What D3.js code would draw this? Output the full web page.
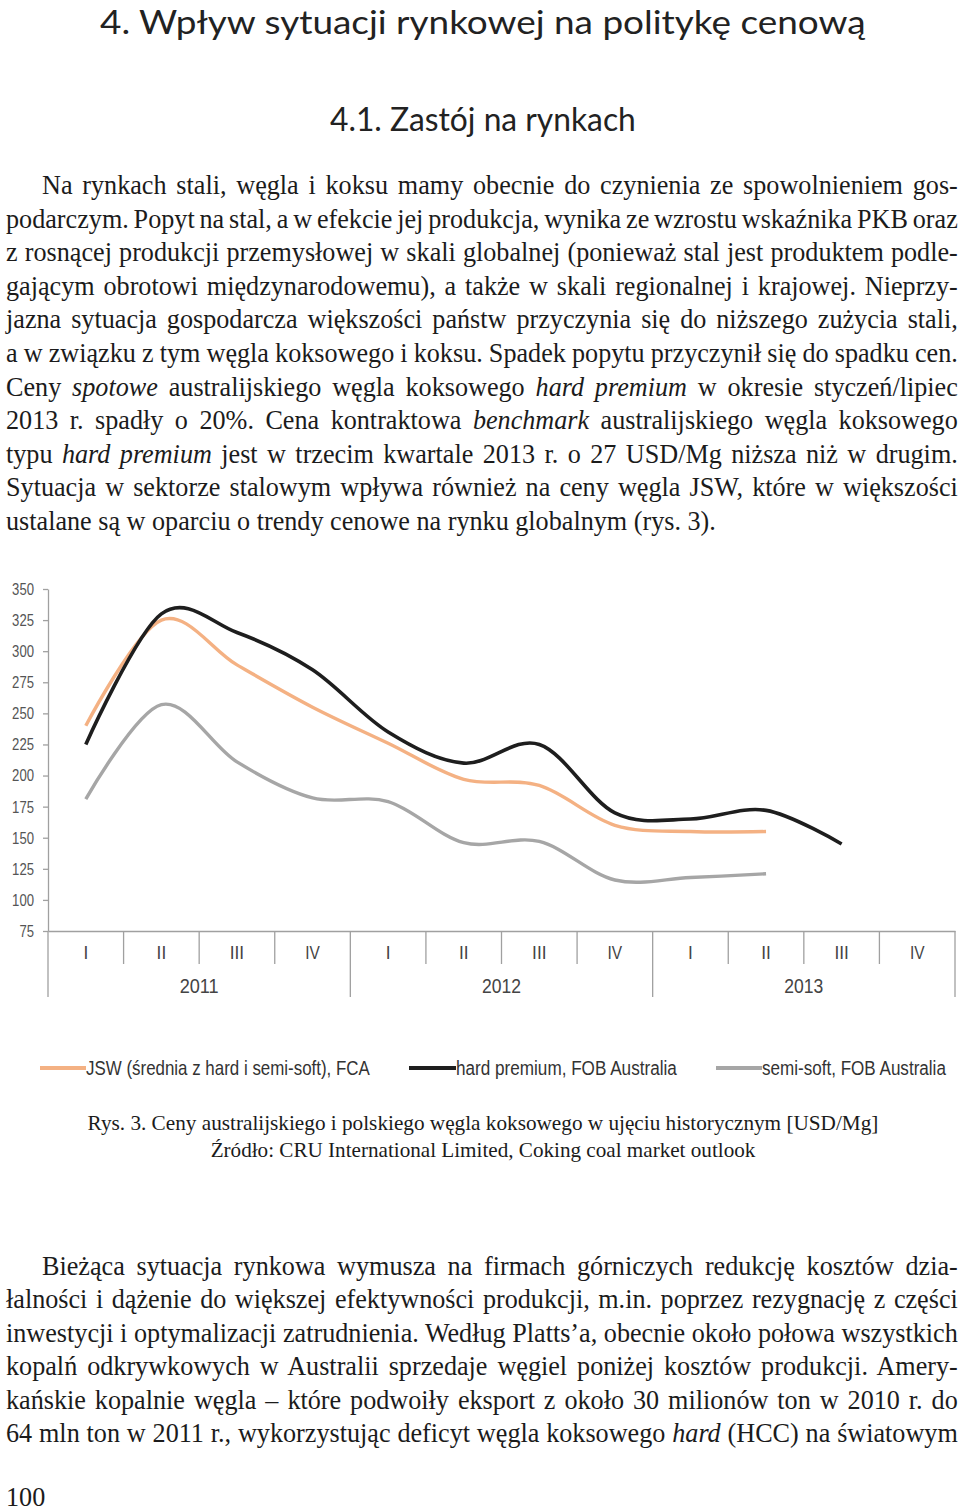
<!DOCTYPE html>
<html><head><meta charset="utf-8">
<script src="https://cdn.jsdelivr.net/npm/d3@7"></script>
<style>body{margin:0;background:#fff}svg{display:block}</style>
</head><body><svg id="c" width="960" height="1511"></svg>
<script>
// ---------- DATA ----------
const quarters = ["I","II","III","IV","I","II","III","IV","I","II","III","IV"];
const years = ["2011","2012","2013"];
const yTicks = [75,100,125,150,175,200,225,250,275,300,325,350];
const jswValues  = [240,325,289,255,226,197,192,160,155,155];
const hardValues = [225,330,315,285,235,210,225,170,165,172,145];
const semiValues = [181,257,211,182,179,146,147,116,118,121];
const seriesNames = ["JSW (średnia z hard i semi-soft), FCA","hard premium, FOB Australia","semi-soft, FOB Australia"];
const seriesColors = ["#f4b183","#1e1e1e","#a6a6a6"];

const headingText = "4. Wpływ sytuacji rynkowej na politykę cenową";
const subheadingText = "4.1. Zastój na rynkach";
const para1 = [
 "Na rynkach stali, węgla i koksu mamy obecnie do czynienia ze spowolnieniem gos-",
 "podarczym. Popyt na stal, a w efekcie jej produkcja, wynika ze wzrostu wskaźnika PKB oraz",
 "z rosnącej produkcji przemysłowej w skali globalnej (ponieważ stal jest produktem podle-",
 "gającym obrotowi międzynarodowemu), a także w skali regionalnej i krajowej. Nieprzy-",
 "jazna sytuacja gospodarcza większości państw przyczynia się do niższego zużycia stali,",
 "a w związku z tym węgla koksowego i koksu. Spadek popytu przyczynił się do spadku cen.",
 "Ceny *spotowe* australijskiego węgla koksowego *hard premium* w okresie styczeń/lipiec",
 "2013 r. spadły o 20%. Cena kontraktowa *benchmark* australijskiego węgla koksowego",
 "typu *hard premium* jest w trzecim kwartale 2013 r. o 27 USD/Mg niższa niż w drugim.",
 "Sytuacja w sektorze stalowym wpływa również na ceny węgla JSW, które w większości",
 "ustalane są w oparciu o trendy cenowe na rynku globalnym (rys. 3)."
];
const para2 = [
 "Bieżąca sytuacja rynkowa wymusza na firmach górniczych redukcję kosztów dzia-",
 "łalności i dążenie do większej efektywności produkcji, m.in. poprzez rezygnację z części",
 "inwestycji i optymalizacji zatrudnienia. Według Platts’a, obecnie około połowa wszystkich",
 "kopalń odkrywkowych w Australii sprzedaje węgiel poniżej kosztów produkcji. Amery-",
 "kańskie kopalnie węgla – które podwoiły eksport z około 30 milionów ton w 2010 r. do",
 "64 mln ton w 2011 r., wykorzystując deficyt węgla koksowego *hard* (HCC) na światowym"
];
const captionLines = [
 "Rys. 3. Ceny australijskiego i polskiego węgla koksowego w ujęciu historycznym [USD/Mg]",
 "Źródło: CRU International Limited, Coking coal market outlook"
];
const pageNumber = "100";

// ---------- SETUP ----------
const svg = d3.select("#c");
const SERIF = "'Liberation Serif','Times New Roman',serif";
const SANS = "'Liberation Sans',Arial,sans-serif";
const HEAD = "Lato,'Open Sans',sans-serif";
const INK = "#1b1b1b";

function fitText(str, x, y, size, family, width, anchor, fill) {
  const t = svg.append("text").attr("font-family", family).attr("font-size", size)
    .attr("fill", fill || INK).attr("text-anchor", anchor || "start").text(str);
  const w = t.node().getComputedTextLength();
  const k = width / w;
  t.attr("transform", `translate(${x},${y}) scale(${k},1)`);
  return t;
}

fitText(headingText, 100, 34, 33, HEAD, 766, "start", "#222");
fitText(subheadingText, 330, 131, 32, HEAD, 306, "start", "#222");

const BF = 28;
function buildLine(str) {
  const t = svg.append("text").attr("font-family", SERIF).attr("font-size", BF).attr("fill", INK);
  str.split("*").forEach((seg, i) => {
    if (seg.length) t.append("tspan").attr("font-style", i % 2 ? "italic" : "normal").text(seg);
  });
  return t;
}
const probe = buildLine(para1[para1.length - 1]);
const kx = 710 / probe.node().getComputedTextLength();
probe.remove();

function paragraph(lines, y0, lh, lastJustified) {
  lines.forEach((str, i) => {
    const t = buildLine(str);
    const x0 = i === 0 ? 42 : 6;
    const w = t.node().getComputedTextLength();
    const spaces = (str.match(/ /g) || []).length;
    const justify = i < lines.length - 1 || lastJustified;
    const target = 958 - x0;
    const ws = justify && spaces ? (target / kx - w) / spaces : 0;
    t.attr("transform", `translate(${x0},${y0 + i * lh}) scale(${kx},1)`)
     .style("word-spacing", ws + "px");
  });
}
paragraph(para1, 194, 33.6, false);
paragraph(para2, 1275, 33.4, true);

svg.append("text").attr("transform", `translate(6,1506) scale(${kx},1)`)
  .attr("font-family", SERIF).attr("font-size", BF).attr("fill", INK).text(pageNumber);

fitText(captionLines[0], 483, 1130, 21, SERIF, 791, "middle");
fitText(captionLines[1], 483, 1157, 21, SERIF, 545, "middle");

// ---------- CHART ----------
const x = d3.scaleBand().domain(d3.range(quarters.length)).range([48, 955]).padding(0);
const cx = i => x(i) + x.bandwidth() / 2;
const y = d3.scaleLinear().domain([75, 350]).range([931, 589]);
const AX = "#a0a0a0";

const yAxis = svg.append("g").attr("transform", "translate(48,0)")
  .call(d3.axisLeft(y).tickValues(yTicks).tickSize(5).tickSizeOuter(0).tickPadding(9));
yAxis.select(".domain").attr("stroke", AX).attr("stroke-width", 1.3);
yAxis.selectAll(".tick line").attr("stroke", AX).attr("stroke-width", 1.3);
yAxis.selectAll(".tick text").attr("font-family", SANS).attr("font-size", 17).attr("fill", "#555")
  .attr("textLength", d => String(d).length * 7.3).attr("lengthAdjust", "spacingAndGlyphs");

const xAxis = svg.append("g").attr("transform", "translate(0,931)")
  .call(d3.axisBottom(x).tickSize(0).tickSizeOuter(0).tickPadding(0).tickFormat(i => quarters[i]));
xAxis.select(".domain").attr("stroke", AX).attr("stroke-width", 1.3);
xAxis.selectAll(".tick text").attr("font-family", SANS).attr("font-size", 19).attr("fill", "#444")
  .attr("dy", null).attr("y", 28)
  .attr("textLength", (i) => quarters[i].length * 4.8 + (quarters[i] === "IV" ? 5 : 0))
  .attr("lengthAdjust", "spacingAndGlyphs");

const bounds = d3.range(quarters.length + 1).map(i => i < quarters.length ? x(i) : x.range()[1]);
svg.append("g").selectAll("line").data(bounds).join("line")
  .attr("x1", d => d).attr("x2", d => d)
  .attr("y1", 931).attr("y2", (d, i) => i % 4 === 0 ? 997 : 964)
  .attr("stroke", AX).attr("stroke-width", 1.3);

svg.append("g").selectAll("text").data(years).join("text")
  .attr("x", (d, i) => (bounds[i * 4] + bounds[i * 4 + 4]) / 2)
  .attr("y", 993).attr("text-anchor", "middle")
  .attr("font-family", SANS).attr("font-size", 20).attr("fill", "#444")
  .attr("textLength", 39).attr("lengthAdjust", "spacingAndGlyphs")
  .text(d => d);

const line = d3.line().x((d, i) => cx(i)).y(d => y(d)).curve(d3.curveCardinal.tension(0));
const allSeries = [jswValues, hardValues, semiValues];
svg.append("g").selectAll("path").data(allSeries).join("path")
  .attr("d", d => line(d)).attr("fill", "none")
  .attr("stroke", (d, i) => seriesColors[i])
  .attr("stroke-width", (d, i) => i === 1 ? 3.6 : 3.4)
  .attr("stroke-linecap", "butt").attr("stroke-linejoin", "round");

const legendLayout = [{lx: 40, tx: 86, tw: 284}, {lx: 409, tx: 456, tw: 221}, {lx: 716, tx: 762, tw: 184}];
const lg = svg.append("g").selectAll("g").data(seriesNames).join("g");
lg.append("line").attr("x1", (d, i) => legendLayout[i].lx).attr("x2", (d, i) => legendLayout[i].tx)
  .attr("y1", 1068).attr("y2", 1068).attr("stroke", (d, i) => seriesColors[i]).attr("stroke-width", 4);
lg.append("text").attr("font-family", SANS).attr("font-size", 20).attr("fill", "#333")
  .text(d => d)
  .each(function(d, i) {
    const w = this.getComputedTextLength();
    d3.select(this).attr("transform", `translate(${legendLayout[i].tx},1075) scale(${legendLayout[i].tw / w},1)`);
  });
</script>
</body></html>
